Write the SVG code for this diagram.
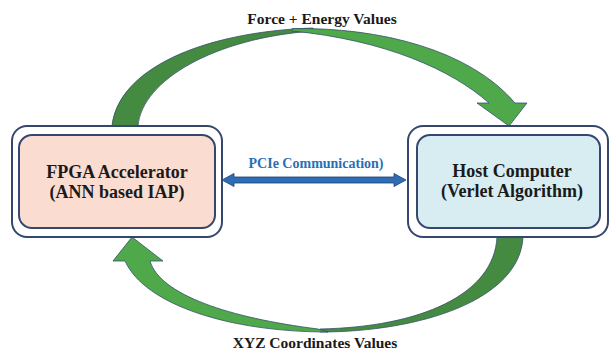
<svg xmlns="http://www.w3.org/2000/svg" width="610" height="351" viewBox="0 0 610 351">
  <style>
    .frame { fill: #ffffff; stroke: #36476e; stroke-width: 2; }
    .core { stroke: #36476e; stroke-width: 2; }
    .label { font-family: "Liberation Serif", "Times New Roman", serif; font-weight: bold; fill: #1a1a1a; text-anchor: middle; }
    .node-text { font-size: 18px; }
    .flow-text { font-size: 15.5px; }
    .link-text { font-size: 14px; fill: #2a6fb5; }
    .band-dark { fill: #458a41; stroke: #34506a; stroke-width: 0.8; stroke-linejoin: round; }
    .band-light { fill: #4fa84a; stroke: #34506a; stroke-width: 0.8; stroke-linejoin: round; }
    .bus { fill: #2e6db5; stroke: #1f3f70; stroke-width: 0.8; }
  </style>
  <rect width="610" height="351" fill="#ffffff"/>

  <g id="connectors">
    <!-- upper curved arrow: FPGA -> Host -->
    <g id="force-energy-flow">
      <path class="band-dark" d="M112,126 C118,70 200,32 313,28 L313,31 C215,38 142,80 138,126 Z"/>
      <path class="band-light" d="M292,28.6 C380,27 470,50 515,103 L527,103 L509,126 L477,103 L489,103 C452,70 385,40 292,31 Z"/>
    </g>
    <!-- lower curved arrow: Host -> FPGA -->
    <g id="xyz-flow">
      <path class="band-dark" d="M523,237 C520,300 420,332 320,332 L320,329 C420,327 494,295 497,237 Z"/>
      <path class="band-light" d="M328,332 C230,332 145,305 125,261 L113,261 L132,237 L163,261 L150,261 C160,295 230,318 318,329 Z"/>
    </g>
    <!-- PCIe link: double-headed arrow -->
    <path id="pcie-link" class="bus" d="M222,180 L234,173.5 L234,177 L394,177 L394,173.5 L406,180 L394,186.5 L394,183 L234,183 L234,186.5 Z"/>
  </g>

  <g id="fpga-node">
    <rect class="frame" x="12" y="126" width="210" height="111" rx="15"/>
    <rect class="core" x="19" y="135" width="196" height="93" rx="13" fill="#fbdcd0"/>
    <text class="label node-text" x="117" y="178">FPGA Accelerator</text>
    <text class="label node-text" x="117" y="198">(ANN based IAP)</text>
  </g>

  <g id="host-node">
    <rect class="frame" x="408" y="126" width="200" height="111" rx="15"/>
    <rect class="core" x="417" y="135" width="183" height="93" rx="13" fill="#d7edf2"/>
    <text class="label node-text" x="512" y="177">Host Computer</text>
    <text class="label node-text" x="512" y="197">(Verlet Algorithm)</text>
  </g>

  <g id="labels">
    <text class="label flow-text" x="322" y="24">Force + Energy Values</text>
    <text class="label link-text" x="316" y="168">PCIe Communication)</text>
    <text class="label flow-text" x="315" y="348">XYZ Coordinates Values</text>
  </g>
</svg>
